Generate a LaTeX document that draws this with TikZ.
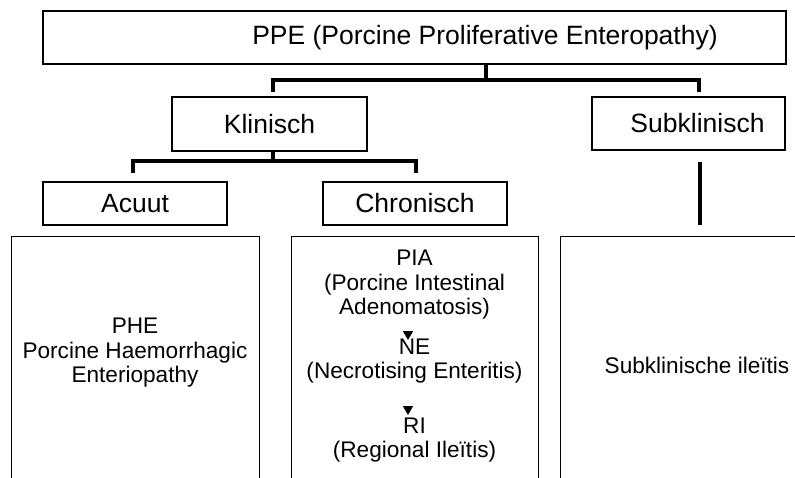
\documentclass[tikz,border=0pt]{standalone}
\usepackage{fontspec}
\setmainfont{Liberation Sans}
\usepackage{tikz}
\usetikzlibrary{shapes, positioning, calc}
\newcommand{\headfont}{\fontsize{26.5pt}{30pt}\selectfont}
\newcommand{\bodyfont}{\fontsize{22.6pt}{24.5pt}\selectfont}

\begin{document}
\begin{tikzpicture}[
    x = 1pt, y = -1pt, align = center,
    headbox/.style = {
      rectangle, draw, line width = 1.3pt, inner sep = 0pt, font = \headfont
    },
    colbox/.style = {
      rectangle, draw, line width = 1.3pt, inner sep = 0pt,
      anchor = north west, minimum height = 300pt
    },
    bodytxt/.style = {
      inner sep = 0pt, font = \bodyfont
    },
    branchline/.style = {
      line width = 4pt
    },
    arrowtip/.style = {
      regular polygon, regular polygon sides = 3, shape border rotate = 180,
      fill = black, draw = none, inner sep = 0pt, minimum size = 12pt
    },
    ]

    \useasboundingbox (0, 0) rectangle (795, 477);
    \clip (0, 0) rectangle (795, 477);

    % draw the boxes of the tree
    \node  [headbox, minimum width = 743pt, minimum height = 53pt]  (ppe)  at (414.5, 37.5)
      {\hspace*{141pt}PPE (Porcine Proliferative Enteropathy)};
    \node  [headbox, minimum width = 195pt, minimum height = 54pt]  (klin)  at (269.5, 124)  {Klinisch};
    \node  [headbox, minimum width = 193pt, minimum height = 53pt]  (sub)  at (688.5, 123.5)
      {\hspace*{18pt}Subklinisch};
    \node  [headbox, minimum width = 184pt, minimum height = 43pt]  (acu)  at (135, 203.5)  {Acuut};
    \node  [headbox, minimum width = 184pt, minimum height = 43pt]  (chr)  at (415, 203.5)  {Chronisch};

    % draw the open columns at the bottom
    \node  [colbox, minimum width = 248pt]  (phebox)  at (11, 236)  {};
    \node  [colbox, minimum width = 247pt]  (chrbox)  at (291, 236)  {};
    \node  [colbox, minimum width = 300pt]  (subbox)  at (560, 236)  {};

    % draw texts in the columns
    \node  [bodytxt]  (phe)  at (135, 353)  {PHE\\Porcine Haemorrhagic\\Enteriopathy};
    \node  [bodytxt]  (pia)  at (414.5, 285)  {PIA\\(Porcine Intestinal\\Adenomatosis)};
    \node  [bodytxt]  (ne)  at (414.5, 361)  {NE\\(Necrotising Enteritis)};
    \node  [bodytxt]  (ri)  at (414.5, 440)  {RI\\(Regional Ileïtis)};
    \node  [bodytxt]  (subtxt)  at (697, 365)  {Subklinische ileïtis};

    \node  [arrowtip]  (tri1)  at (408, 334)  {};
    \node  [arrowtip]  (tri2)  at (408, 409)  {};

    % draw the branches
    \coordinate  (topjoin)  at (486, 80);
    \coordinate  (klindrop)  at (273, 92);
    \coordinate  (subdrop)  at (699, 92);
    \coordinate  (midjoin)  at (273, 161);
    \coordinate  (acudrop)  at (133, 173);
    \coordinate  (chrdrop)  at (416, 173);
    \coordinate  (subtop)  at (700, 162);
    \coordinate  (subbot)  at (700, 225);

    \draw  [branchline]  (ppe.south -| topjoin)  --  (topjoin);
    \draw  [branchline]  (klindrop)  |-  (topjoin)  -|  (subdrop);
    \draw  [branchline]  (klin.south -| midjoin)  --  (midjoin);
    \draw  [branchline]  (acudrop)  |-  (midjoin)  -|  (chrdrop);
    \draw  [branchline]  (subtop)  --  (subbot);

\end{tikzpicture}
\end{document}
